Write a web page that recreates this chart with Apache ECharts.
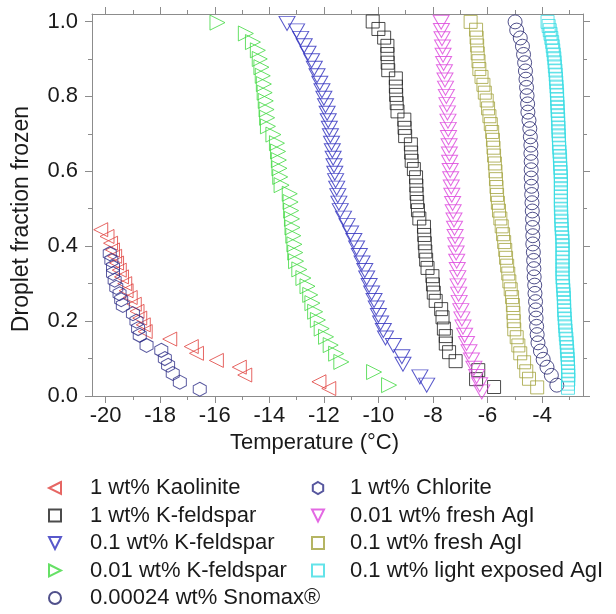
<!DOCTYPE html>
<html>
<head>
<meta charset="utf-8">
<script src="https://cdn.jsdelivr.net/npm/echarts@6/dist/echarts.min.js"></script>
<style>
html, body { margin: 0; padding: 0; background: #ffffff; }
#chart { width: 616px; height: 614px; }
</style>
</head>
<body>
<div id="chart"></div>
<script>
// Tick positions
const xMajor = [-20, -18, -16, -14, -12, -10, -8, -6, -4];
const xMinor = [-19, -17, -15, -13, -11, -9, -7, -5, -3];
const yMajor = [0, 0.2, 0.4, 0.6, 0.8, 1.0];
const yMinor = [0.1, 0.3, 0.5, 0.7, 0.9];

// Frozen fraction vs temperature, [T (°C), fraction]
const kaolinite1 = [[-20.18,0.444],[-19.95,0.426],[-19.82,0.408],[-19.75,0.39],[-19.67,0.373],[-19.6,0.355],[-19.5,0.336],[-19.42,0.318],[-19.3,0.3],[-19.25,0.281],[-19.1,0.263],[-18.95,0.245],[-18.85,0.226],[-18.75,0.208],[-18.62,0.19],[-18.55,0.172],[-17.65,0.152],[-16.86,0.132],[-16.67,0.114],[-15.94,0.095],[-15.1,0.077],[-14.9,0.056],[-12.18,0.038],[-11.82,0.02]];

const kfeld1 = [[-10.21,1.0],[-10.0,0.98],[-9.79,0.957],[-9.67,0.935],[-9.67,0.913],[-9.66,0.89],[-9.64,0.87],[-9.36,0.848],[-9.36,0.826],[-9.35,0.804],[-9.33,0.782],[-9.3,0.76],[-9.05,0.738],[-9.04,0.716],[-9.02,0.694],[-8.81,0.672],[-8.8,0.65],[-8.78,0.628],[-8.7,0.606],[-8.62,0.584],[-8.61,0.562],[-8.6,0.54],[-8.58,0.518],[-8.55,0.496],[-8.5,0.474],[-8.33,0.452],[-8.32,0.43],[-8.3,0.408],[-8.28,0.386],[-8.25,0.364],[-8.2,0.342],[-8.02,0.32],[-8.0,0.298],[-7.97,0.276],[-7.9,0.254],[-7.7,0.232],[-7.65,0.21],[-7.6,0.18],[-7.53,0.16],[-7.53,0.14],[-7.41,0.117],[-7.17,0.093],[-6.34,0.069],[-6.42,0.045],[-5.76,0.024]];

const kfeld01 = [[-13.35,0.995],[-13.0,0.975],[-12.85,0.955],[-12.72,0.935],[-12.58,0.915],[-12.45,0.895],[-12.35,0.875],[-12.25,0.855],[-12.15,0.835],[-12.07,0.815],[-12.0,0.795],[-11.94,0.775],[-11.88,0.755],[-11.84,0.735],[-11.8,0.715],[-11.76,0.695],[-11.72,0.675],[-11.69,0.655],[-11.66,0.635],[-11.63,0.615],[-11.6,0.595],[-11.57,0.575],[-11.53,0.555],[-11.49,0.535],[-11.45,0.515],[-11.4,0.495],[-11.28,0.475],[-11.15,0.455],[-11.02,0.435],[-10.9,0.415],[-10.8,0.395],[-10.7,0.375],[-10.6,0.355],[-10.5,0.335],[-10.43,0.315],[-10.34,0.295],[-10.25,0.275],[-10.16,0.255],[-10.08,0.235],[-10.0,0.215],[-9.92,0.195],[-9.82,0.175],[-9.74,0.155],[-9.45,0.135],[-9.14,0.105],[-9.1,0.085],[-8.48,0.051],[-8.23,0.029]];

const kfeld001 = [[-15.9,0.997],[-14.86,0.968],[-14.6,0.945],[-14.42,0.923],[-14.35,0.9],[-14.29,0.878],[-14.24,0.855],[-14.2,0.833],[-14.17,0.81],[-14.13,0.788],[-14.1,0.765],[-14.08,0.743],[-14.05,0.72],[-13.85,0.698],[-13.72,0.675],[-13.68,0.653],[-13.65,0.63],[-13.63,0.608],[-13.6,0.585],[-13.55,0.563],[-13.25,0.54],[-13.22,0.518],[-13.2,0.495],[-13.17,0.473],[-13.15,0.45],[-13.12,0.428],[-13.08,0.405],[-13.05,0.383],[-13.02,0.36],[-12.9,0.338],[-12.75,0.315],[-12.6,0.293],[-12.5,0.27],[-12.42,0.248],[-12.32,0.225],[-12.22,0.203],[-12.08,0.18],[-11.92,0.158],[-11.75,0.136],[-11.55,0.113],[-11.36,0.091],[-10.16,0.064],[-9.61,0.029]];

const snomax = [[-4.99,0.999],[-4.93,0.977],[-4.8,0.956],[-4.72,0.934],[-4.68,0.912],[-4.64,0.89],[-4.61,0.868],[-4.59,0.846],[-4.57,0.824],[-4.55,0.802],[-4.53,0.78],[-4.52,0.758],[-4.48,0.736],[-4.45,0.714],[-4.43,0.692],[-4.41,0.67],[-4.41,0.648],[-4.4,0.626],[-4.4,0.604],[-4.4,0.582],[-4.39,0.56],[-4.38,0.538],[-4.37,0.516],[-4.36,0.494],[-4.35,0.472],[-4.35,0.45],[-4.34,0.428],[-4.34,0.406],[-4.32,0.384],[-4.31,0.362],[-4.3,0.34],[-4.29,0.318],[-4.27,0.296],[-4.26,0.274],[-4.24,0.252],[-4.23,0.23],[-4.22,0.208],[-4.2,0.186],[-4.18,0.164],[-4.15,0.142],[-4.06,0.12],[-3.96,0.098],[-3.82,0.077],[-3.66,0.055],[-3.46,0.029]];

const chlorite1 = [[-19.85,0.38],[-19.79,0.362],[-19.73,0.344],[-19.73,0.327],[-19.67,0.309],[-19.61,0.29],[-19.49,0.273],[-19.43,0.257],[-19.37,0.242],[-19.0,0.22],[-18.87,0.2],[-18.81,0.18],[-18.75,0.162],[-18.5,0.135],[-17.96,0.122],[-17.83,0.1],[-17.71,0.082],[-17.54,0.06],[-17.28,0.037],[-16.55,0.018]];

const freshAgI001 = [[-7.7,0.998],[-7.69,0.976],[-7.67,0.954],[-7.65,0.932],[-7.63,0.91],[-7.61,0.888],[-7.58,0.866],[-7.56,0.844],[-7.54,0.822],[-7.51,0.8],[-7.49,0.778],[-7.47,0.756],[-7.45,0.734],[-7.44,0.712],[-7.43,0.69],[-7.41,0.668],[-7.4,0.646],[-7.39,0.624],[-7.37,0.602],[-7.35,0.58],[-7.33,0.558],[-7.31,0.536],[-7.28,0.514],[-7.26,0.492],[-7.23,0.47],[-7.21,0.448],[-7.19,0.426],[-7.17,0.404],[-7.15,0.382],[-7.13,0.36],[-7.11,0.338],[-7.09,0.316],[-7.08,0.294],[-7.06,0.272],[-7.04,0.25],[-6.98,0.228],[-6.94,0.206],[-6.9,0.184],[-6.84,0.162],[-6.77,0.14],[-6.68,0.118],[-6.59,0.096],[-6.5,0.074],[-6.4,0.052],[-6.29,0.03],[-6.21,0.011]];

const freshAgI01 = [[-6.62,0.999],[-6.42,0.978],[-6.4,0.957],[-6.38,0.936],[-6.36,0.915],[-6.33,0.894],[-6.3,0.873],[-6.22,0.852],[-6.15,0.831],[-6.1,0.81],[-6.03,0.789],[-5.98,0.768],[-5.93,0.747],[-5.88,0.726],[-5.83,0.705],[-5.8,0.684],[-5.78,0.663],[-5.76,0.642],[-5.73,0.621],[-5.71,0.6],[-5.69,0.579],[-5.67,0.558],[-5.65,0.537],[-5.62,0.516],[-5.58,0.495],[-5.53,0.474],[-5.48,0.453],[-5.43,0.432],[-5.39,0.411],[-5.35,0.39],[-5.32,0.369],[-5.28,0.348],[-5.24,0.327],[-5.2,0.306],[-5.15,0.285],[-5.1,0.264],[-5.07,0.243],[-5.05,0.222],[-5.04,0.2],[-5.02,0.178],[-4.93,0.157],[-4.87,0.135],[-4.8,0.114],[-4.66,0.09],[-4.58,0.066],[-4.48,0.046],[-4.18,0.023]];

const lightAgI01 = [[-3.8,0.999],[-3.76,0.988],[-3.72,0.977],[-3.69,0.967],[-3.66,0.956],[-3.63,0.945],[-3.61,0.934],[-3.59,0.923],[-3.57,0.912],[-3.55,0.902],[-3.54,0.891],[-3.53,0.88],[-3.51,0.869],[-3.5,0.858],[-3.49,0.847],[-3.48,0.837],[-3.47,0.826],[-3.46,0.815],[-3.45,0.804],[-3.45,0.793],[-3.44,0.782],[-3.43,0.772],[-3.43,0.761],[-3.42,0.75],[-3.41,0.739],[-3.41,0.728],[-3.4,0.717],[-3.4,0.707],[-3.39,0.696],[-3.38,0.685],[-3.38,0.674],[-3.37,0.663],[-3.36,0.652],[-3.35,0.641],[-3.34,0.631],[-3.34,0.62],[-3.33,0.609],[-3.32,0.598],[-3.31,0.587],[-3.31,0.576],[-3.31,0.566],[-3.31,0.555],[-3.31,0.544],[-3.31,0.533],[-3.31,0.522],[-3.31,0.511],[-3.31,0.5],[-3.3,0.49],[-3.3,0.479],[-3.29,0.468],[-3.29,0.457],[-3.28,0.446],[-3.27,0.435],[-3.26,0.424],[-3.25,0.414],[-3.25,0.403],[-3.25,0.392],[-3.25,0.381],[-3.25,0.37],[-3.25,0.359],[-3.25,0.348],[-3.25,0.338],[-3.25,0.327],[-3.25,0.316],[-3.24,0.305],[-3.23,0.294],[-3.22,0.283],[-3.21,0.272],[-3.2,0.262],[-3.2,0.251],[-3.19,0.24],[-3.19,0.229],[-3.18,0.218],[-3.17,0.207],[-3.16,0.196],[-3.15,0.186],[-3.14,0.175],[-3.13,0.164],[-3.11,0.153],[-3.1,0.142],[-3.09,0.131],[-3.08,0.12],[-3.07,0.11],[-3.06,0.099],[-3.05,0.088],[-3.05,0.077],[-3.04,0.066],[-3.04,0.055],[-3.04,0.044],[-3.05,0.033],[-3.05,0.022]];

// Marker outlines
const SYM = {
  left: 'path://M10,0 L0,5 L10,10 Z',
  right: 'path://M0,0 L10,5 L0,10 Z',
  down: 'path://M0,0 L10,0 L5,10 Z',
  hex: 'path://M4.33,0 L8.66,2.5 L8.66,7.5 L4.33,10 L0,7.5 L0,2.5 Z',
  square: 'path://M0,0 L10,0 L10,10 L0,10 Z',
  circle: 'circle'
};

const FONT = 'Liberation Sans, Arial, sans-serif';
const AXIS_COLOR = '#8c8c8c';
const TEXT_COLOR = '#1a1a1a';

function sc(name, data, symbol, size, color) {
  return {
    name: name,
    type: 'scatter',
    data: data,
    symbol: symbol,
    symbolSize: size,
    itemStyle: { color: 'rgba(0,0,0,0)', borderColor: color, borderWidth: 1 },
    emphasis: { disabled: true },
    xAxisIndex: 0,
    yAxisIndex: 0
  };
}

const series = [
  sc('1 wt% Kaolinite', kaolinite1, SYM.left, [14, 14], '#e0403c'),
  sc('1 wt% K-feldspar', kfeld1, SYM.square, [13, 13], '#1e1e1e'),
  sc('0.1 wt% K-feldspar', kfeld01, SYM.down, [16, 14], '#2e2ebe'),
  sc('0.01 wt% K-feldspar', kfeld001, SYM.right, [15, 15], '#40d840'),
  sc('0.00024 wt% Snomax®', snomax, SYM.circle, 14, '#24246e'),
  sc('1 wt% Chlorite', chlorite1, SYM.hex, [13, 14], '#2c2c86'),
  sc('0.01 wt% fresh AgI', freshAgI001, SYM.down, [16, 14], '#dc44dc'),
  sc('0.1 wt% fresh AgI', freshAgI01, SYM.square, [13, 13], '#a2a23c'),
  sc('0.1 wt% light exposed AgI', lightAgI01, SYM.square, [13, 13], '#3cdce4')
];

function xAxisDef(pos, ticks, len, withLine, withLabels) {
  return {
    type: 'value', position: pos, min: -20.5, max: -2.5,
    axisLine: { show: withLine, onZero: false, lineStyle: { color: AXIS_COLOR, width: 1 } },
    axisTick: { show: true, inside: false, length: len, customValues: ticks, lineStyle: { color: AXIS_COLOR, width: 1 } },
    axisLabel: withLabels ? { show: true, customValues: ticks, margin: 9, color: TEXT_COLOR, fontSize: 22, fontFamily: FONT } : { show: false },
    splitLine: { show: false }
  };
}
function yAxisDef(pos, ticks, len, withLine, withLabels) {
  return {
    type: 'value', position: pos, min: 0, max: 1.02,
    axisLine: { show: withLine, onZero: false, lineStyle: { color: AXIS_COLOR, width: 1 } },
    axisTick: { show: true, inside: false, length: len, customValues: ticks, lineStyle: { color: AXIS_COLOR, width: 1 } },
    axisLabel: withLabels ? { show: true, customValues: ticks, margin: 14, color: TEXT_COLOR, fontSize: 22, fontFamily: FONT, formatter: v => v.toFixed(1) } : { show: false },
    splitLine: { show: false }
  };
}

const xb = xAxisDef('bottom', xMajor, 7, true, true);
xb.name = 'Temperature (°C)';
xb.nameLocation = 'middle';
xb.nameGap = 36;
// the title sits a little left of the plot centre
xb.nameTextStyle = { color: TEXT_COLOR, fontSize: 22, fontFamily: FONT, padding: [0, 46, 0, 0] };

const yl = yAxisDef('left', yMajor, 7, true, true);
yl.name = 'Droplet fraction frozen';
yl.nameLocation = 'middle';
yl.nameGap = 59;
// the title sits a little below the plot centre
yl.nameTextStyle = { color: TEXT_COLOR, fontSize: 23, fontFamily: FONT, padding: [0, 28, 0, 0] };

const names = series.map(s => s.name);

function legendDef(items, left, textPad) {
  return {
    data: items, orient: 'vertical', left: left, top: 477, padding: 0,
    itemWidth: 14, itemHeight: 12, itemGap: 5.5,
    selectedMode: false,
    textStyle: { color: TEXT_COLOR, fontSize: 22, fontFamily: FONT, lineHeight: 22, padding: [0, 0, 0, textPad] }
  };
}

const option = {
  animation: false,
  backgroundColor: '#ffffff',
  grid: { left: 92, top: 14, width: 491, height: 382, containLabel: false },
  xAxis: [
    xb,
    xAxisDef('bottom', xMinor, 4, false, false),
    xAxisDef('top', xMajor, 7, true, false),
    xAxisDef('top', xMinor, 4, false, false)
  ],
  yAxis: [
    yl,
    yAxisDef('left', yMinor, 4, false, false),
    yAxisDef('right', yMajor, 7, true, false),
    yAxisDef('right', yMinor, 4, false, false)
  ],
  legend: [
    legendDef(names.slice(0, 5), 48, 23),
    legendDef(names.slice(5), 311, 20)
  ],
  series: series
};

const chart = echarts.init(document.getElementById('chart'), null, { renderer: 'canvas' });
chart.setOption(option);
</script>
</body>
</html>
